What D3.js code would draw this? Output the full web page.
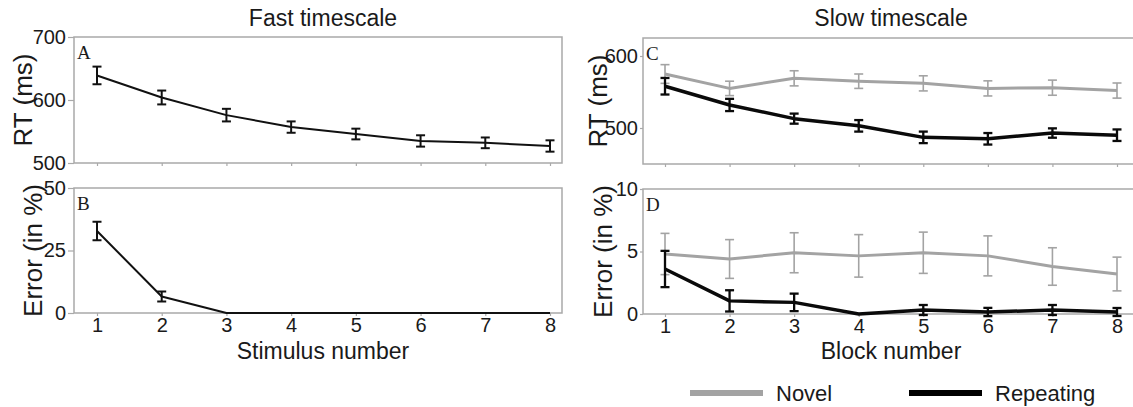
<!DOCTYPE html>
<html>
<head>
<meta charset="utf-8">
<script src="https://cdn.jsdelivr.net/npm/d3@7"></script>
<style>
  body { margin: 0; background: #fff; }
  text { font-family: "Liberation Sans", Arial, sans-serif; fill: #1a1a1a; }
</style>
</head>
<body>
<svg id="chart" width="1133" height="407"></svg>
<script>
// Data
const stimulus = [1, 2, 3, 4, 5, 6, 7, 8];
const fastRT = [639, 604, 576, 557, 546, 535, 532, 527];
const fastRTSE = [14, 11, 10, 9, 8.5, 9, 8.5, 9];
const fastErr = [32.8, 6.6, 0, 0, 0, 0, 0, 0];
const fastErrSE = [3.7, 2, 0, 0, 0, 0, 0, 0];

const blocks = [1, 2, 3, 4, 5, 6, 7, 8];
const slowRTNovel = [575, 555, 569, 565, 562, 555, 556, 552];
const slowRTNovelSE = [13, 10, 10.5, 10, 10.5, 10.5, 10.5, 10.5];
const slowRTRep = [558, 532, 513, 503, 487, 485, 493, 490];
const slowRTRepSE = [11.5, 8.5, 7, 8, 8, 8, 6.5, 8];
const slowErrNovel = [4.8, 4.4, 4.9, 4.65, 4.9, 4.65, 3.8, 3.2];
const slowErrNovelSE = [1.65, 1.55, 1.6, 1.7, 1.65, 1.6, 1.5, 1.35];
const slowErrRep = [3.6, 1.05, 0.93, 0, 0.32, 0.16, 0.32, 0.16];
const slowErrRepSE = [1.45, 0.85, 0.7, 0, 0.4, 0.33, 0.4, 0.32];

const rtFastTicks = [500, 600, 700];
const errFastTicks = [0, 25, 50];
const rtSlowTicks = [500, 600];
const errSlowTicks = [0, 5, 10];

const GRAY = '#a3a3a3';
const BOX = '#a9a9a9';

const svg = d3.select('#chart');

function panel(o) {
  const g = svg.append('g');
  const x = d3.scaleLinear().domain([1, 8]).range(o.xr);
  const y = d3.scaleLinear().domain(o.yDomain).range([o.y1, o.y0]);

  g.append('rect')
    .attr('x', o.x0).attr('y', o.y0)
    .attr('width', o.x1 - o.x0).attr('height', o.y1 - o.y0)
    .attr('fill', 'none').attr('stroke', BOX).attr('stroke-width', 1.5);

  // y axis
  const ya = g.append('g')
    .attr('transform', `translate(${o.x0},0)`)
    .call(d3.axisLeft(y).tickValues(o.yTicks).tickSize(o.tick).tickPadding(2));
  ya.select('.domain').remove();
  ya.selectAll('line').attr('stroke', BOX).attr('stroke-width', 1.2);
  ya.selectAll('text').attr('font-size', 20).attr('fill', '#1a1a1a')
    .style('font-family', '"Liberation Sans", Arial, sans-serif');

  // x axis
  const xa = g.append('g')
    .attr('transform', `translate(0,${o.y1})`)
    .call(d3.axisBottom(x).tickValues(o.xs).tickSize(3).tickPadding(2)
      .tickFormat(o.xLabels ? d3.format('d') : ''));
  xa.select('.domain').remove();
  xa.selectAll('line').attr('stroke', BOX).attr('stroke-width', 1.2);
  xa.selectAll('text').attr('font-size', 20).attr('fill', '#1a1a1a')
    .style('font-family', '"Liberation Sans", Arial, sans-serif');

  // panel letter
  g.append('text')
    .attr('x', o.x0 + 3).attr('y', o.y0 + 22)
    .style('font-family', '"Liberation Serif", "Times New Roman", serif')
    .attr('font-size', 19)
    .text(o.letter);

  // y label
  g.append('text')
    .attr('transform', `translate(${o.labelX},${(o.y0 + o.y1) / 2}) rotate(-90)`)
    .attr('text-anchor', 'middle')
    .attr('dominant-baseline', 'central')
    .attr('font-size', 26)
    .text(o.yLabel);

  o.series.forEach(s => {
    const pts = o.xs.map((d, i) => ({ x: d, v: s.values[i], e: s.se[i] }));
    g.append('path')
      .datum(pts)
      .attr('fill', 'none')
      .attr('stroke', s.color)
      .attr('stroke-width', s.width)
      .attr('stroke-linejoin', 'round')
      .attr('d', d3.line().x(d => x(d.x)).y(d => y(d.v)));

    const bars = g.append('g').selectAll('g')
      .data(pts.filter(d => d.e > 0))
      .join('g')
      .attr('stroke', s.color)
      .attr('stroke-width', s.barWidth);
    bars.append('line')
      .attr('x1', d => x(d.x)).attr('x2', d => x(d.x))
      .attr('y1', d => y(d.v - d.e)).attr('y2', d => y(d.v + d.e));
    [-1, 1].forEach(k => {
      bars.append('line')
        .attr('x1', d => x(d.x) - 4.5).attr('x2', d => x(d.x) + 4.5)
        .attr('y1', d => y(d.v + k * d.e)).attr('y2', d => y(d.v + k * d.e));
    });
  });
}

panel({
  letter: 'A', x0: 74, x1: 562, y0: 37, y1: 163, xr: [97, 550],
  yDomain: [500, 700], yTicks: rtFastTicks, tick: 6, labelX: 23,
  xs: stimulus, xLabels: false, yLabel: 'RT (ms)',
  series: [{ values: fastRT, se: fastRTSE, color: '#111', width: 2, barWidth: 2 }]
});
panel({
  letter: 'B', x0: 74, x1: 562, y0: 188, y1: 313, xr: [97, 550],
  yDomain: [0, 50], yTicks: errFastTicks, tick: 6, labelX: 33,
  xs: stimulus, xLabels: true, yLabel: 'Error (in %)',
  series: [{ values: fastErr, se: fastErrSE, color: '#111', width: 2, barWidth: 2 }]
});
panel({
  letter: 'C', x0: 643, x1: 1140, y0: 38, y1: 164, xr: [665, 1117],
  yDomain: [450, 625], yTicks: rtSlowTicks, tick: 3, labelX: 598,
  xs: blocks, xLabels: false, yLabel: 'RT (ms)',
  series: [
    { values: slowRTNovel, se: slowRTNovelSE, color: GRAY, width: 3, barWidth: 1.6 },
    { values: slowRTRep, se: slowRTRepSE, color: '#0a0a0a', width: 3.5, barWidth: 2.3 }
  ]
});
panel({
  letter: 'D', x0: 643, x1: 1140, y0: 189, y1: 314, xr: [665, 1117],
  yDomain: [0, 10], yTicks: errSlowTicks, tick: 3, labelX: 603,
  xs: blocks, xLabels: true, yLabel: 'Error (in %)',
  series: [
    { values: slowErrNovel, se: slowErrNovelSE, color: GRAY, width: 3, barWidth: 1.6 },
    { values: slowErrRep, se: slowErrRepSE, color: '#0a0a0a', width: 3.5, barWidth: 2.3 }
  ]
});

// titles and x labels
svg.append('text').attr('x', 323).attr('y', 26).attr('text-anchor', 'middle')
  .attr('font-size', 23).text('Fast timescale');
svg.append('text').attr('x', 891).attr('y', 26).attr('text-anchor', 'middle')
  .attr('font-size', 23).text('Slow timescale');
svg.append('text').attr('x', 323).attr('y', 359).attr('text-anchor', 'middle')
  .attr('font-size', 23).text('Stimulus number');
svg.append('text').attr('x', 891).attr('y', 359).attr('text-anchor', 'middle')
  .attr('font-size', 23).text('Block number');

// legend
const legendItems = [
  { label: 'Novel', color: GRAY, x: 690 },
  { label: 'Repeating', color: '#000', x: 909 }
];
const lg = svg.append('g').selectAll('g').data(legendItems).join('g')
  .attr('transform', d => `translate(${d.x},393)`);
lg.append('line').attr('x1', 0).attr('x2', 73)
  .attr('stroke', d => d.color).attr('stroke-width', 6);
lg.append('text').attr('x', 86).attr('y', 0).attr('dominant-baseline', 'central')
  .attr('font-size', 22).text(d => d.label);
</script>
</body>
</html>
